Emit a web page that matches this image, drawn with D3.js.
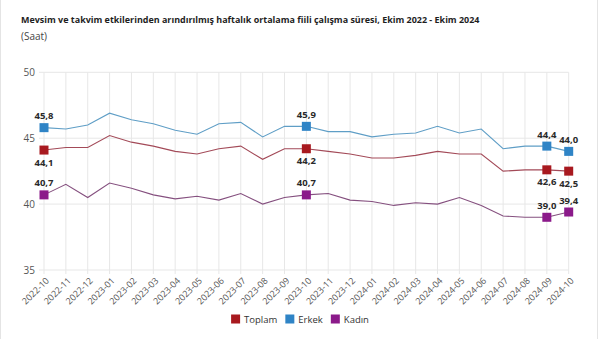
<!DOCTYPE html>
<html lang="tr">
<head>
<meta charset="utf-8">
<script src="https://cdn.jsdelivr.net/npm/d3@7"></script>
<style>
  html, body { margin: 0; padding: 0; background: #fff; }
  svg { display: block; font-family: "Open Sans", "Noto Sans", sans-serif; }
</style>
</head>
<body>
<svg id="chart" width="600" height="339"></svg>
<script>
// Aylar (Ekim 2022 - Ekim 2024)
const months = [
  "2022-10","2022-11","2022-12","2023-01","2023-02","2023-03","2023-04",
  "2023-05","2023-06","2023-07","2023-08","2023-09","2023-10","2023-11",
  "2023-12","2024-01","2024-02","2024-03","2024-04","2024-05","2024-06",
  "2024-07","2024-08","2024-09","2024-10"
];

// Haftalık ortalama fiili çalışma süresi (saat)
const toplam = [44.1,44.3,44.3,45.2,44.7,44.4,44.0,43.8,44.2,44.4,43.4,44.2,44.2,
                44.0,43.8,43.5,43.5,43.7,44.0,43.8,43.8,42.5,42.6,42.6,42.5];
const erkek  = [45.8,45.7,46.0,46.9,46.4,46.1,45.6,45.3,46.1,46.2,45.1,45.9,45.9,
                45.5,45.5,45.1,45.3,45.4,45.9,45.4,45.7,44.2,44.4,44.4,44.0];
const kadin  = [40.7,41.5,40.5,41.6,41.2,40.7,40.4,40.6,40.3,40.8,40.0,40.5,40.7,
                40.8,40.3,40.2,39.9,40.1,40.0,40.5,39.9,39.1,39.0,39.0,39.4];

const yTicks = [35, 40, 45, 50];
// Değer etiketli noktalar
const labelled = ["2022-10", "2023-10", "2024-09", "2024-10"];

const seriesNames = ["Toplam", "Erkek", "Kadın"];
const series = [
  { name: "Toplam", values: toplam, marker: "#a8191f", line: "#a34a58", labelPos: "below" },
  { name: "Erkek",  values: erkek,  marker: "#2f84c6", line: "#5f9ec6", labelPos: "above" },
  { name: "Kadın",  values: kadin,  marker: "#8b1a8a", line: "#85507f", labelPos: "above" }
];

const svg = d3.select("#chart");
const fmt = v => d3.format(".1f")(v).replace(".", ",");

// Kart çerçevesi
svg.append("line").attr("x1", 0.5).attr("x2", 0.5).attr("y1", 0).attr("y2", 339)
  .attr("stroke", "#e4e4e4");
svg.append("line").attr("x1", 597.5).attr("x2", 597.5).attr("y1", 0).attr("y2", 339)
  .attr("stroke", "#e4e4e4");

// Başlık
const title = svg.append("text")
  .attr("x", 21).attr("y", 23)
  .attr("fill", "#1e1e1e").attr("font-weight", 700).attr("font-size", 11)
  .text("Mevsim ve takvim etkilerinden arındırılmış haftalık ortalama fiili çalışma süresi, Ekim 2022 - Ekim 2024");
const tw = title.node().getComputedTextLength();
title.attr("font-size", (11 * 459 / tw).toFixed(2));

svg.append("text")
  .attr("x", 21).attr("y", 40)
  .attr("fill", "#444").attr("font-size", 10)
  .text("(Saat)");

// Ölçekler
const x = d3.scalePoint().domain(months).range([44, 568.7]);
const y = d3.scaleLinear().domain([35, 50]).range([270, 72.3]);

// Izgara
const grid = svg.append("g");
grid.selectAll("line.v").data(months).join("line")
  .attr("class", "v")
  .attr("x1", d => x(d)).attr("x2", d => x(d))
  .attr("y1", y(50)).attr("y2", y(35) + 4)
  .attr("stroke", "#e7e7e7");
grid.selectAll("line.h").data(yTicks).join("line")
  .attr("class", "h")
  .attr("x1", 39).attr("x2", x(months[months.length - 1]))
  .attr("y1", d => y(d)).attr("y2", d => y(d))
  .attr("stroke", "#e7e7e7");

// Y ekseni
const yAxis = svg.append("g")
  .attr("transform", "translate(35,0)")
  .call(d3.axisLeft(y).tickValues(yTicks).tickSize(0).tickPadding(0));
yAxis.select(".domain").remove();
yAxis.selectAll("text").attr("fill", "#555").attr("font-size", 10)
  .attr("font-family", "\"Open Sans\", sans-serif");

// X ekseni
const xAxis = svg.append("g")
  .attr("transform", `translate(0,${y(35)})`)
  .call(d3.axisBottom(x).tickSize(0).tickPadding(0));
xAxis.select(".domain").remove();
xAxis.selectAll("text")
  .attr("fill", "#555").attr("font-size", 9)
  .attr("font-family", "\"Open Sans\", sans-serif")
  .attr("text-anchor", "end")
  .attr("dy", "0.35em")
  .attr("transform", "translate(3,9) rotate(-45)");

// Çizgiler
const line = d3.line()
  .x((d, i) => x(months[i]))
  .y(d => y(d));

series.forEach(s => {
  svg.append("path")
    .datum(s.values)
    .attr("fill", "none")
    .attr("stroke", s.line)
    .attr("stroke-width", 1.1)
    .attr("d", line);
});

// İşaretler ve değer etiketleri
series.forEach(s => {
  const pts = labelled.map(m => ({ m, v: s.values[months.indexOf(m)] }));
  const g = svg.append("g");
  g.selectAll("rect").data(pts).join("rect")
    .attr("x", d => x(d.m) - 4.5).attr("y", d => y(d.v) - 4.5)
    .attr("width", 9).attr("height", 9)
    .attr("fill", s.marker);
  g.selectAll("text").data(pts).join("text")
    .attr("x", d => x(d.m))
    .attr("y", d => s.labelPos === "above" ? y(d.v) - 8.5 : y(d.v) + 15.5)
    .attr("text-anchor", "middle")
    .attr("fill", "#2a2a2a").attr("font-weight", 700).attr("font-size", 9.5)
    .text(d => fmt(d.v));
});

// Gösterge: öğeler ölçülen metin genişliğine göre yan yana, ortalanmış
const legend = svg.append("g");
let cursor = 0;
series.forEach((s, i) => {
  const item = legend.append("g").attr("transform", `translate(${cursor},0)`);
  item.append("rect")
    .attr("x", 0).attr("y", 314.5)
    .attr("width", 9).attr("height", 9)
    .attr("fill", s.marker);
  const t = item.append("text")
    .attr("x", 13).attr("y", 322.5)
    .attr("fill", "#333").attr("font-size", 9.5)
    .text(seriesNames[i]);
  cursor += 13 + t.node().getComputedTextLength() + 8;
});
const legendWidth = cursor - 8;
legend.attr("transform", `translate(${(300 - legendWidth / 2).toFixed(1)},0)`);
</script>
</body>
</html>
